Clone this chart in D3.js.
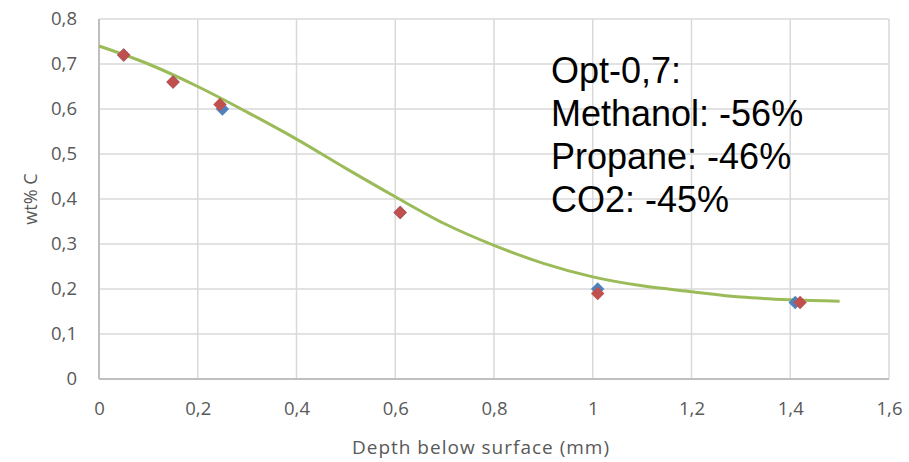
<!DOCTYPE html>
<html>
<head>
<meta charset="utf-8">
<script src="https://cdn.jsdelivr.net/npm/d3@7"></script>
<style>
  body { margin: 0; background: #fff; }
  svg text { font-family: "Open Sans", Lato, sans-serif; }
</style>
</head>
<body>
<script>
(function() {
  var width = 909, height = 462;
  var margin = { left: 99, right: 20, top: 19, bottom: 83 };

  // measured series (red / blue diamonds)
  var depthRed = [0.05, 0.15, 0.245, 0.61, 1.01, 1.42];
  var wtRed = [0.72, 0.66, 0.61, 0.37, 0.19, 0.17];
  var depthBlue = [0.05, 0.15, 0.25, 0.61, 1.01, 1.41];
  var wtBlue = [0.72, 0.66, 0.60, 0.37, 0.20, 0.17];

  // model curve
  var depthFit = [0, 0.1, 0.2, 0.3, 0.4, 0.5, 0.6, 0.7, 0.8, 0.9, 1.0, 1.1, 1.2, 1.3, 1.4, 1.5];
  var wtFit = [0.74, 0.7, 0.65, 0.593, 0.533, 0.468, 0.405, 0.345, 0.297, 0.257, 0.227, 0.207, 0.194, 0.182, 0.176, 0.173];

  var xTicks = [0, 0.2, 0.4, 0.6, 0.8, 1, 1.2, 1.4, 1.6];
  var yTicks = [0, 0.1, 0.2, 0.3, 0.4, 0.5, 0.6, 0.7, 0.8];
  var noteLines = ['Opt-0,7:', 'Methanol: -56%', 'Propane: -46%', 'CO2: -45%'];

  var fmt = function(d) { return String(d).replace('.', ','); };

  var svg = d3.select('body').append('svg').attr('width', width).attr('height', height);

  var x = d3.scaleLinear().domain([0, 1.6]).range([margin.left, width - margin.right]);
  var y = d3.scaleLinear().domain([0, 0.8]).range([height - margin.bottom, margin.top]);

  // gridlines
  svg.append('g').selectAll('line').data(xTicks).enter().append('line')
    .attr('x1', function(d) { return x(d); }).attr('x2', function(d) { return x(d); })
    .attr('y1', y(0)).attr('y2', y(0.8))
    .attr('stroke', '#d9d9d9').attr('stroke-width', 1.5);
  svg.append('g').selectAll('line').data(yTicks).enter().append('line')
    .attr('x1', x(0)).attr('x2', x(1.6))
    .attr('y1', function(d) { return y(d); }).attr('y2', function(d) { return y(d); })
    .attr('stroke', '#d9d9d9').attr('stroke-width', 1.5);

  // axis lines
  svg.append('line').attr('x1', x(0)).attr('x2', x(1.6)).attr('y1', y(0)).attr('y2', y(0))
    .attr('stroke', '#bfbfbf').attr('stroke-width', 2);
  svg.append('line').attr('x1', x(0)).attr('x2', x(0)).attr('y1', y(0)).attr('y2', y(0.8))
    .attr('stroke', '#bfbfbf').attr('stroke-width', 2);

  // tick labels via d3 axes, lines hidden
  var xAxis = svg.append('g').attr('transform', 'translate(0,' + y(0) + ')')
    .call(d3.axisBottom(x).tickValues(xTicks).tickFormat(fmt).tickSize(0).tickPadding(23));
  var yAxis = svg.append('g').attr('transform', 'translate(' + x(0) + ',0)')
    .call(d3.axisLeft(y).tickValues(yTicks).tickFormat(fmt).tickSize(0).tickPadding(22));
  [xAxis, yAxis].forEach(function(a) {
    a.select('.domain').remove();
    a.selectAll('text').attr('font-size', 18.5).attr('fill', '#595959')
      .style('font-family', '"Open Sans", Lato, sans-serif');
  });

  // fit line
  var line = d3.line().x(function(d) { return x(d[0]); }).y(function(d) { return y(d[1]); })
    .curve(d3.curveMonotoneX);
  svg.append('path').datum(d3.zip(depthFit, wtFit)).attr('d', line)
    .attr('fill', 'none').attr('stroke', '#9bbb59').attr('stroke-width', 3);

  // diamonds
  var diamond = d3.symbol().type(d3.symbolSquare).size(90);
  function drawPts(xs, ys, color) {
    svg.append('g').selectAll('path').data(d3.zip(xs, ys)).enter().append('path')
      .attr('d', diamond)
      .attr('transform', function(d) { return 'translate(' + x(d[0]) + ',' + y(d[1]) + ') rotate(45)'; })
      .attr('fill', color);
  }
  drawPts(depthBlue, wtBlue, '#4f81bd');
  drawPts(depthRed, wtRed, '#c0504d');

  // axis titles
  svg.append('text').attr('x', 481).attr('y', 454)
    .attr('text-anchor', 'middle').attr('font-size', 19).attr('letter-spacing', 1)
    .attr('fill', '#595959')
    .text('Depth below surface (mm)');
  svg.append('text').attr('transform', 'translate(37,' + ((y(0) + y(0.8)) / 2) + ') rotate(-90)')
    .attr('text-anchor', 'middle').attr('font-size', 18).attr('fill', '#595959')
    .text('wt% C');

  // annotation
  svg.append('g').selectAll('text').data(noteLines).enter().append('text')
    .attr('x', 551).attr('y', function(d, i) { return 83 + i * 43; })
    .style('font-family', '"Liberation Sans", Arial, sans-serif')
    .attr('font-size', 36).attr('fill', '#000')
    .text(function(d) { return d; });
}).call(this);
</script>
</body>
</html>
